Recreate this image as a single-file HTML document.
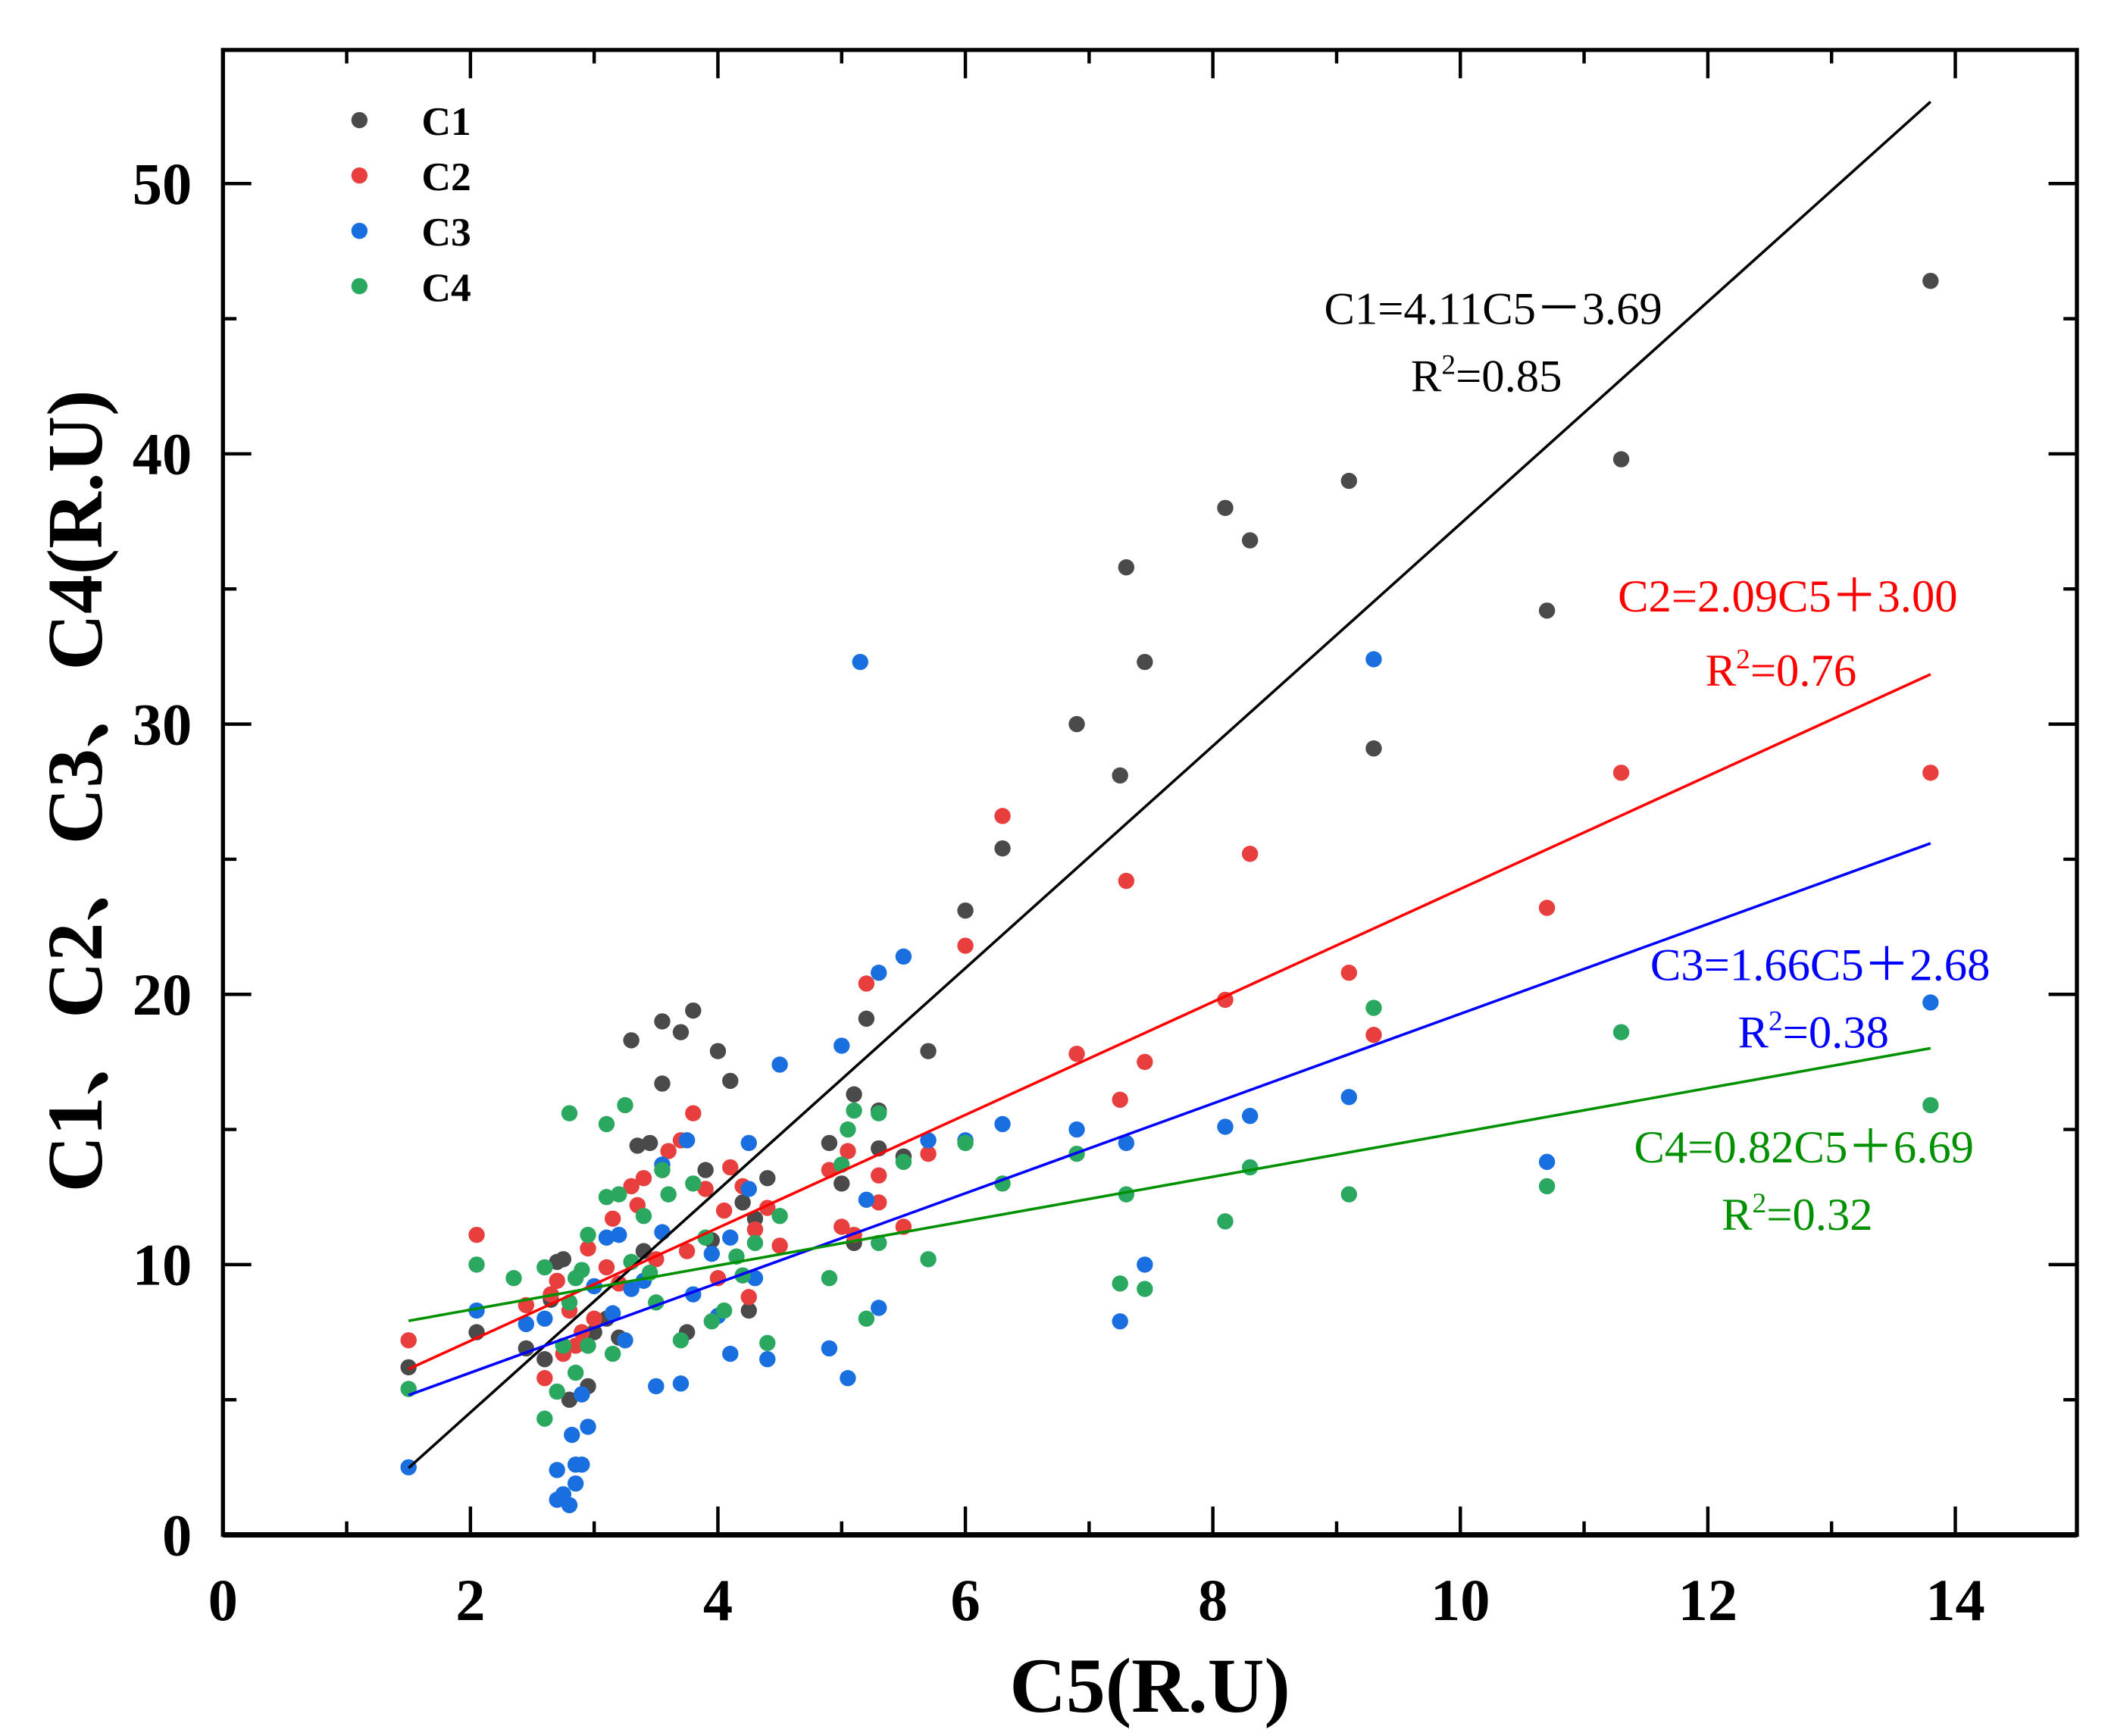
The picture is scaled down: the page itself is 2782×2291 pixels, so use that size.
<!DOCTYPE html>
<html><head><meta charset="utf-8">
<style>html,body{margin:0;padding:0;background:#fff;}svg{display:block;}</style>
</head><body>
<svg id="chart" xmlns="http://www.w3.org/2000/svg" width="2782" height="2291" viewBox="0 0 1560 1286" preserveAspectRatio="none">
<rect width="1560" height="1286" fill="#fff"/>
<g id="marks"></g>
<g id="axes"></g>
<g id="texts" font-family="Liberation Serif, serif">
  <g font-weight="bold" font-size="30">
    <circle cx="266" cy="89" r="6" fill="#4a4a4a"/>
    <text x="312" y="100">C1</text>
    <circle cx="266" cy="130" r="6" fill="#e83e3e"/>
    <text x="312" y="141">C2</text>
    <circle cx="266" cy="171" r="6" fill="#1a6fe0"/>
    <text x="312" y="182">C3</text>
    <circle cx="266" cy="212" r="6" fill="#2aa860"/>
    <text x="312" y="223">C4</text>
  </g>
  <g font-size="34" text-anchor="middle">
    <text x="1105" y="240" fill="#000">C1=4.11C5－3.69</text>
    <text x="1100" y="290" fill="#000">R<tspan dy="-13" font-size="21">2</tspan><tspan dy="13">=0.85</tspan></text>
    <text x="1323" y="453" fill="#ff0000">C2=2.09C5＋3.00</text>
    <text x="1318" y="508" fill="#ff0000">R<tspan dy="-13" font-size="21">2</tspan><tspan dy="13">=0.76</tspan></text>
    <text x="1347" y="726" fill="#0000ff">C3=1.66C5＋2.68</text>
    <text x="1342" y="776" fill="#0000ff">R<tspan dy="-13" font-size="21">2</tspan><tspan dy="13">=0.38</tspan></text>
    <text x="1335" y="861" fill="#009000">C4=0.82C5＋6.69</text>
    <text x="1330" y="911" fill="#009000">R<tspan dy="-13" font-size="21">2</tspan><tspan dy="13">=0.32</tspan></text>
  </g>
  <text x="851" y="1268" font-size="58" font-weight="bold" text-anchor="middle">C5(R.U)</text>
  <text transform="translate(75,586) rotate(-90)" font-size="58" font-weight="bold" text-anchor="middle" font-family="Liberation Serif, Noto Serif CJK SC, serif">C1、C2、C3、C4(R.U)</text>
</g>
</svg>
<script>
const c1 = [[1.5,6.2],[2.05,7.5],[2.45,6.9],[2.6,6.5],[2.65,8.7],[2.7,10.1],[2.75,10.2],[2.8,5.0],[2.9,5.2],[2.95,5.5],[3.0,7.5],[3.1,8.0],[3.2,7.3],[3.3,18.3],[3.35,14.4],[3.4,10.5],[3.45,14.5],[3.55,19.0],[3.55,16.7],[3.7,18.6],[3.8,19.4],[3.75,7.5],[3.9,13.5],[3.95,10.9],[4.0,17.9],[4.1,16.8],[4.2,12.3],[4.25,8.3],[4.3,11.7],[4.4,13.2],[4.9,14.5],[5.0,13.0],[5.1,16.3],[5.1,10.8],[5.2,19.1],[5.3,14.3],[5.3,15.7],[5.5,14.0],[5.7,17.9],[6.0,23.1],[6.3,25.4],[6.9,30.0],[7.25,28.1],[7.3,35.8],[7.45,32.3],[8.1,38.0],[8.3,36.8],[9.1,39.0],[9.3,29.1],[10.7,34.2],[11.3,39.8],[13.8,46.4]];
const c2 = [[1.5,7.2],[2.05,11.1],[2.45,8.5],[2.6,5.8],[2.65,8.9],[2.7,9.4],[2.75,6.7],[2.8,8.3],[2.85,7.0],[2.9,7.5],[2.95,10.6],[3.0,8.0],[3.1,9.9],[3.15,11.7],[3.2,9.3],[3.3,12.9],[3.35,12.2],[3.4,13.2],[3.5,10.2],[3.55,13.5],[3.6,14.2],[3.7,14.6],[3.75,10.5],[3.8,15.6],[3.9,12.8],[4.0,9.5],[4.05,12.0],[4.1,13.6],[4.2,12.9],[4.25,8.8],[4.3,11.3],[4.4,12.1],[4.5,10.7],[4.9,13.5],[5.0,11.4],[5.05,14.2],[5.1,11.1],[5.2,20.4],[5.3,12.3],[5.3,13.3],[5.5,11.4],[5.7,14.1],[6.0,21.8],[6.3,26.6],[6.9,17.8],[7.25,16.1],[7.3,24.2],[7.45,17.5],[8.1,19.8],[8.3,25.2],[9.1,20.8],[9.3,18.5],[10.7,23.2],[11.3,28.2],[13.8,28.2]];
const c3 = [[1.5,2.5],[2.05,8.3],[2.45,7.8],[2.6,8.0],[2.7,2.4],[2.7,1.3],[2.75,1.5],[2.8,1.1],[2.82,3.7],[2.85,2.6],[2.85,1.9],[2.9,2.6],[2.9,5.2],[2.95,4.0],[3.0,9.2],[3.1,11.0],[3.15,8.2],[3.2,11.1],[3.25,7.2],[3.3,9.1],[3.4,9.4],[3.5,5.5],[3.55,13.7],[3.55,11.2],[3.7,5.6],[3.75,14.6],[3.8,8.9],[3.95,10.4],[4.0,8.1],[4.1,6.7],[4.1,11.0],[4.25,14.5],[4.25,12.8],[4.3,9.5],[4.4,6.5],[4.5,17.4],[4.9,6.9],[5.0,18.1],[5.05,5.8],[5.15,32.3],[5.2,12.4],[5.3,8.4],[5.3,20.8],[5.5,21.4],[5.7,14.6],[6.0,14.6],[6.3,15.2],[6.9,15.0],[7.25,7.9],[7.3,14.5],[7.45,10.0],[8.1,15.1],[8.3,15.5],[9.1,16.2],[9.3,32.4],[10.7,13.8],[13.8,19.7]];
const c4 = [[1.5,5.4],[2.05,10.0],[2.35,9.5],[2.6,4.3],[2.6,9.9],[2.7,5.3],[2.75,7.0],[2.8,15.6],[2.8,8.6],[2.85,9.5],[2.85,6.0],[2.9,9.8],[2.95,11.1],[2.95,7.0],[3.1,15.2],[3.1,12.5],[3.15,6.7],[3.2,12.6],[3.25,15.9],[3.3,10.1],[3.4,11.8],[3.45,9.7],[3.5,8.6],[3.6,12.6],[3.55,13.5],[3.7,7.2],[3.8,13.0],[3.9,11.0],[3.95,7.9],[4.05,8.3],[4.15,10.3],[4.2,9.6],[4.3,10.8],[4.4,7.1],[4.5,11.8],[4.9,9.5],[5.0,13.7],[5.05,15.0],[5.1,15.7],[5.2,8.0],[5.3,15.6],[5.3,10.8],[5.5,13.8],[5.7,10.2],[6.0,14.5],[6.3,13.0],[6.9,14.1],[7.25,9.3],[7.3,12.6],[7.45,9.1],[8.1,11.6],[8.3,13.6],[9.1,12.6],[9.3,19.5],[11.3,18.6],[10.7,12.9],[13.8,15.9]];
const fitSlopes = [4.11, 2.09, 1.66, 0.82];
const fitIntercepts = [-3.69, 3.00, 2.68, 6.69];
const fitRange = [1.5, 13.8];
const xTicks = [0,2,4,6,8,10,12,14];
const yTicks = [0,10,20,30,40,50];

const NS = 'http://www.w3.org/2000/svg';
const L = 165, R = 1537, T = 37, B = 1137;
const X = v => L + v * (1447 - L) / 14;
const Y = v => B - v * (B - 136) / 50;
function mk(tag, attrs, parent) {
  const e = document.createElementNS(NS, tag);
  for (const k in attrs) e.setAttribute(k, attrs[k]);
  parent.appendChild(e);
  return e;
}
const marks = document.getElementById('marks');
const axes = document.getElementById('axes');
const series = [
  {d: c1, fill: '#4a4a4a', line: '#000000', name: 'c1'},
  {d: c2, fill: '#e83e3e', line: '#ff0000', name: 'c2'},
  {d: c3, fill: '#1a6fe0', line: '#0000ff', name: 'c3'},
  {d: c4, fill: '#2aa860', line: '#009000', name: 'c4'}
];
series.forEach((s) => {
  s.d.forEach(p => {
    const c = mk('circle', {cx: X(p[0]), cy: Y(p[1]), r: 6, fill: s.fill}, marks);
    
    
  });
});
series.forEach((s, i) => {
  const ln = mk('line', {x1: X(fitRange[0]), y1: Y(fitSlopes[i]*fitRange[0]+fitIntercepts[i]), x2: X(fitRange[1]), y2: Y(fitSlopes[i]*fitRange[1]+fitIntercepts[i]), stroke: s.line, 'stroke-width': 2}, marks);
  
  
});
const fr = mk('rect', {x: L, y: T, width: R - L, height: B - T, fill: 'none', stroke: '#000', 'stroke-width': 3}, axes);


mk('line', {x1: L, y1: B, x2: R, y2: B, stroke: '#000', 'stroke-width': 4}, axes);
for (let v = 0; v <= 15; v++) {
  const len = v % 2 === 0 ? 21 : 10;
  const x = X(v);
  if (x > R) break;
  const t1 = mk('line', {x1: x, y1: B, x2: x, y2: B - len, stroke: '#000', 'stroke-width': 2.5}, axes);
  
  
  mk('line', {x1: x, y1: T, x2: x, y2: T + len, stroke: '#000', 'stroke-width': 2.5}, axes);
}
xTicks.forEach(v => {
  const t = mk('text', {x: X(v), y: 1200, 'text-anchor': 'middle', 'font-family': 'Liberation Serif, serif', 'font-weight': 'bold', 'font-size': 44}, axes);
  t.textContent = v;
  
  
});
for (let v = 0; v <= 54; v += 5) {
  const len = v % 10 === 0 ? 21 : 10;
  const y = Y(v);
  const t1 = mk('line', {x1: L, y1: y, x2: L + len, y2: y, stroke: '#000', 'stroke-width': 2.5}, axes);
  
  
  mk('line', {x1: R, y1: y, x2: R - len, y2: y, stroke: '#000', 'stroke-width': 2.5}, axes);
}
yTicks.forEach(v => {
  const t = mk('text', {x: 142, y: Y(v) + 15, 'text-anchor': 'end', 'font-family': 'Liberation Serif, serif', 'font-weight': 'bold', 'font-size': 44}, axes);
  t.textContent = v;
  
  
});
</script>
</body></html>
